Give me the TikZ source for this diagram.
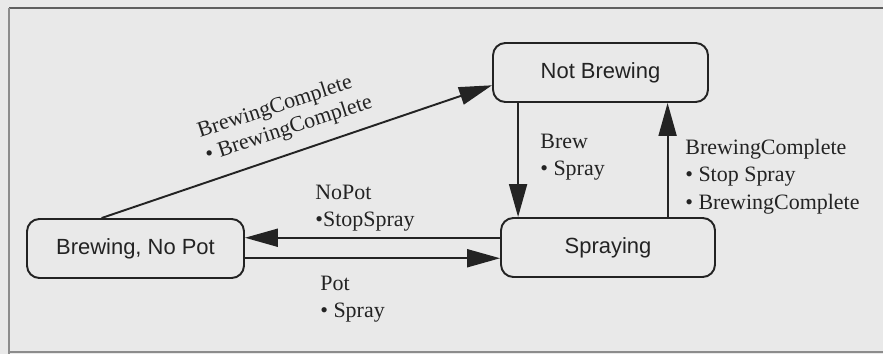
\documentclass[tikz,border=0pt]{standalone}
\usepackage{fontspec}
\setmainfont{Liberation Serif}
\setsansfont{Liberation Sans}
\usetikzlibrary{arrows.meta,calc}
\definecolor{paper}{RGB}{233,233,233}
\definecolor{ink}{RGB}{35,35,35}
\definecolor{rule}{RGB}{95,95,95}
\definecolor{lrule}{RGB}{140,140,140}

\begin{document}
\begin{tikzpicture}[x=0.02cm,y=-0.02cm,
  state/.style={draw=ink,line width=1.1pt,rounded corners=7pt,fill=paper,
                minimum width=4.3cm,minimum height=1.18cm,inner sep=0pt,
                font=\sffamily\fontsize{12.5}{15}\selectfont,text=ink},
  lbl/.style={font=\fontsize{12.5}{15.5}\selectfont,text=ink,align=left,inner sep=0pt},
  arr/.style={-{Triangle[length=0.66cm,width=0.36cm]},line width=1.1pt,color=ink}
]
\useasboundingbox[fill=paper] (0,0) rectangle (883,354);
% page frame
\draw[rule,line width=1.3pt] (9,8) -- (883,8);
\draw[lrule,line width=1.1pt] (9,8) -- (9,354);
\draw[lrule,line width=0.8pt] (9,352) -- (883,352);

% states
\node[state] (nb) at (600.5,72.5) {Not Brewing};
\node[state,minimum width=4.28cm] (sp) at (608,247.5) {Spraying};
\node[state,minimum width=4.34cm] (bnp) at (135.5,248.5) {Brewing, No Pot};

% transitions
\draw[arr] ($(bnp.north west)!0.345!(bnp.north east)$) -- ($(nb.north west)!0.71!(nb.south west)$);
\coordinate (brew) at ($(nb.south west)!0.12!(nb.south east)$);
\draw[arr] (brew) -- (brew |- sp.north);
\coordinate (done) at ($(sp.north west)!0.776!(sp.north east)$);
\draw[arr] (done) -- (done |- nb.south);
\coordinate (nopot) at ($(sp.north west)!0.34!(sp.south west)$);
\draw[arr] (nopot) -- (nopot -| bnp.east);
\coordinate (pot) at ($(bnp.north east)!0.66!(bnp.south east)$);
\draw[arr] (pot) -- (pot -| sp.west);

% labels
\node[lbl,font=\fontsize{12.5}{14}\selectfont,rotate=18,anchor=north west] (lfin) at (195,123) {BrewingComplete\\• BrewingComplete};
\node[lbl,anchor=north west] (lbrew) at (540,134) {Brew\\• Spray};
\node[lbl,anchor=north west] (ldone) at (685,139) {BrewingComplete\\• Stop Spray\\• BrewingComplete};
\node[lbl,anchor=north west] (lnopot) at (315,185) {NoPot\\•StopSpray};
\node[lbl,anchor=north west] (lpot) at (320,276) {Pot\\• Spray};
\end{tikzpicture}
\end{document}
